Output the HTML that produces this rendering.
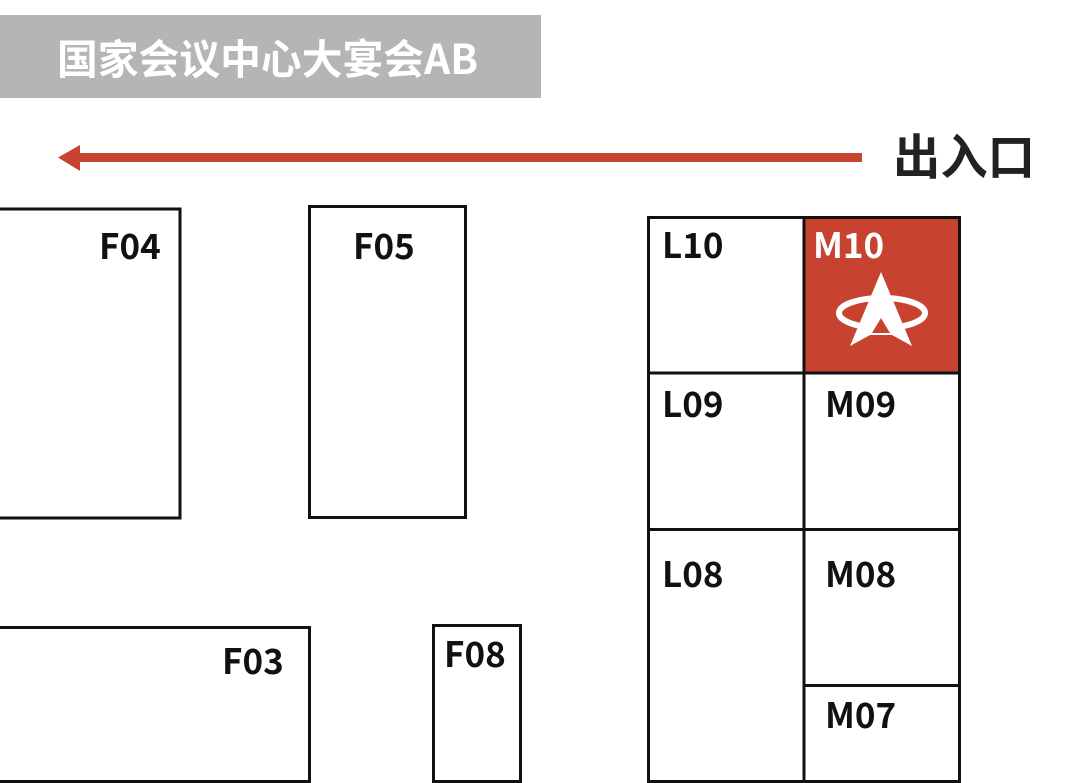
<!DOCTYPE html>
<html><head><meta charset="utf-8"><style>
html,body{margin:0;padding:0;background:#fff;}
svg{display:block;}
text{font-family:"Noto Sans CJK SC","Liberation Sans",sans-serif;font-weight:bold;}
</style></head><body>
<svg width="1080" height="783" viewBox="0 0 1080 783" xmlns="http://www.w3.org/2000/svg">
<rect x="0" y="15" width="541" height="83" fill="#b5b5b5"/>
<text x="57" y="74" font-size="41" fill="#fff" textLength="421" lengthAdjust="spacingAndGlyphs">国家会议中心大宴会AB</text>
<rect x="78" y="153" width="784" height="9" fill="#c8432f"/>
<polygon points="58,157.5 80,145 80,171" fill="#c8432f"/>
<text x="893" y="174" font-size="48" fill="#222" textLength="142" lengthAdjust="spacingAndGlyphs">出入口</text>
<g fill="none" stroke="#111" stroke-width="3">
<rect x="-2" y="209" width="182" height="309"/>
<rect x="309.5" y="206.5" width="156" height="311"/>
<rect x="-2" y="627.5" width="311.5" height="154"/>
<rect x="433.5" y="625.5" width="87" height="156"/>
</g>
<rect x="804" y="217" width="156" height="156" fill="#c8432f"/>
<g fill="none" stroke="#111" stroke-width="3">
<rect x="648.5" y="217.5" width="311" height="564"/>
<line x1="804" y1="217" x2="804" y2="783"/>
<line x1="648" y1="373" x2="960" y2="373"/>
<line x1="648" y1="529.5" x2="960" y2="529.5"/>
<line x1="804" y1="685.5" x2="960" y2="685.5"/>
</g>
<g font-size="35" fill="#111">
<text x="99" y="259">F04</text>
<text x="353" y="259">F05</text>
<text x="222" y="674">F03</text>
<text x="444" y="667">F08</text>
<text x="662" y="258">L10</text>
<text x="662" y="417">L09</text>
<text x="662" y="587">L08</text>
<text x="825" y="417">M09</text>
<text x="825" y="587">M08</text>
<text x="825" y="728">M07</text>
<text x="813" y="258" fill="#fff">M10</text>
</g>
<g fill="#fff">
<ellipse cx="882" cy="313" rx="43" ry="15" fill="none" stroke="#fff" stroke-width="6"/>
<polygon points="881,272 850,346 870,335 892,335 912,346"/>
<polygon points="872,333 881,318 890,333" fill="#c8432f"/>
<text x="867" y="344" font-size="9" fill="#c8432f" font-family="Liberation Sans" font-weight="normal">i-MED</text>
</g>
</svg>
</body></html>
